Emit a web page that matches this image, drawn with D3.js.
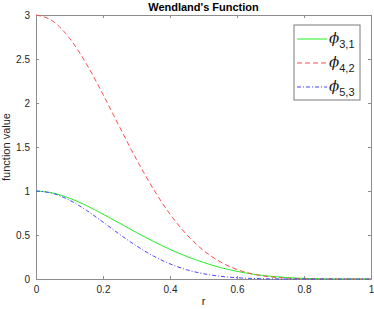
<!DOCTYPE html>
<html>
<head>
<meta charset="utf-8">
<script src="https://cdn.jsdelivr.net/npm/d3@7"></script>
<style>
  body { margin: 0; background: #fff; }
  svg { font-family: 'Liberation Sans', Arial, sans-serif; }
  .axis text { fill: #262626; font-size: 10px; }
  .axis path, .axis line { stroke: #8c8c8c; }
</style>
</head>
<body>
<svg class="chart"></svg>
<script>
// r values read at 0.05 steps
const rValues = [0, 0.05, 0.1, 0.15, 0.2, 0.25, 0.3, 0.35, 0.4, 0.45, 0.5,
  0.55, 0.6, 0.65, 0.7, 0.75, 0.8, 0.85, 0.9, 0.95, 1];
const phi31 = [1, 0.977, 0.918, 0.835, 0.737, 0.633, 0.528, 0.428, 0.337, 0.256, 0.188,
  0.131, 0.087, 0.054, 0.031, 0.016, 0.007, 0.002, 0.0005, 0, 0];
const phi42 = [3, 2.931, 2.737, 2.447, 2.097, 1.724, 1.359, 1.025, 0.737, 0.504, 0.324,
  0.195, 0.108, 0.054, 0.024, 0.009, 0.0025, 0.0005, 0, 0, 0];
const phi53 = [1, 0.973, 0.896, 0.782, 0.647, 0.507, 0.376, 0.262, 0.172, 0.105, 0.060,
  0.031, 0.014, 0.006, 0.002, 0.0005, 0.0001, 0, 0, 0, 0];
const xTicks = [0, 0.2, 0.4, 0.6, 0.8, 1];
const yTicks = [0, 0.5, 1, 1.5, 2, 2.5, 3];

const series = [
  { name: ['3', '1'], values: phi31, color: '#22ee22', dash: null },
  { name: ['4', '2'], values: phi42, color: '#ff4d4d', dash: '5,3' },
  { name: ['5', '3'], values: phi53, color: '#4747ff', dash: '4,2,1,2' }
];

const width = 374, height = 309;
const margin = { top: 15, right: 3, bottom: 30, left: 36 };
const w = width - margin.left - margin.right;
const h = height - margin.top - margin.bottom;

const svg = d3.select('.chart').attr('width', width).attr('height', height);
const g = svg.append('g').attr('transform', `translate(${margin.left},${margin.top})`);

const x = d3.scaleLinear().domain([0, 1]).range([0, w]);
const y = d3.scaleLinear().domain([0, 3]).range([h, 0]);

// axes with inward ticks on all sides
g.append('g').classed('axis', true)
  .attr('transform', `translate(0,${h})`)
  .call(d3.axisBottom(x).tickValues(xTicks).tickSizeInner(-3).tickSizeOuter(0).tickPadding(7).tickFormat(d3.format('')));
g.append('g').classed('axis', true)
  .call(d3.axisTop(x).tickValues(xTicks).tickSizeInner(-3).tickSizeOuter(0).tickFormat(''));
g.append('g').classed('axis', true)
  .call(d3.axisLeft(y).tickValues(yTicks).tickSizeInner(-3).tickSizeOuter(0).tickPadding(6).tickFormat(d3.format('')));
g.append('g').classed('axis', true)
  .attr('transform', `translate(${w},0)`)
  .call(d3.axisRight(y).tickValues(yTicks).tickSizeInner(-3).tickSizeOuter(0).tickFormat(''));

// lines
const line = d3.line()
  .x((d, i) => x(rValues[i]))
  .y((d) => y(d))
  .curve(d3.curveMonotoneX);

g.selectAll('.line')
  .data(series)
  .enter()
  .append('path')
  .classed('line', true)
  .attr('fill', 'none')
  .attr('stroke', (d) => d.color)
  .attr('stroke-width', 1)
  .attr('stroke-dasharray', (d) => d.dash)
  .attr('d', (d) => line(d.values));

// title and axis labels
svg.append('text')
  .attr('x', margin.left + w / 2)
  .attr('y', 11)
  .attr('text-anchor', 'middle')
  .style('font-size', '11px')
  .style('font-weight', 'bold')
  .text("Wendland's Function");

svg.append('text')
  .attr('x', margin.left + w / 2)
  .attr('y', 305)
  .attr('text-anchor', 'middle')
  .style('font-size', '11px')
  .attr('fill', '#262626')
  .text('r');

svg.append('text')
  .attr('transform', `translate(10,${margin.top + h / 2}) rotate(-90)`)
  .attr('text-anchor', 'middle')
  .style('font-size', '11px')
  .attr('fill', '#262626')
  .text('function value');

// legend
const legend = svg.append('g').attr('transform', 'translate(294,25)');
legend.append('rect')
  .attr('width', 66)
  .attr('height', 75)
  .attr('fill', '#fff')
  .attr('stroke', '#7a7a7a');

const items = legend.selectAll('.item')
  .data(series)
  .enter()
  .append('g')
  .attr('transform', (d, i) => `translate(0,${14 + i * 24})`);

items.append('line')
  .attr('x1', 3).attr('x2', 33)
  .attr('stroke', (d) => d.color)
  .attr('stroke-dasharray', (d) => d.dash);

const label = items.append('text')
  .attr('x', 35)
  .attr('y', 4)
  .attr('fill', '#1a1a1a');
label.append('tspan')
  .style('font-size', '15px')
  .style('font-style', 'italic')
  .style('font-family', 'DejaVu Serif, serif')
  .text('\u03D5');
label.append('tspan')
  .attr('dy', 5)
  .style('font-size', '11px')
  .text((d) => d.name.join(','));
</script>
</body>
</html>
